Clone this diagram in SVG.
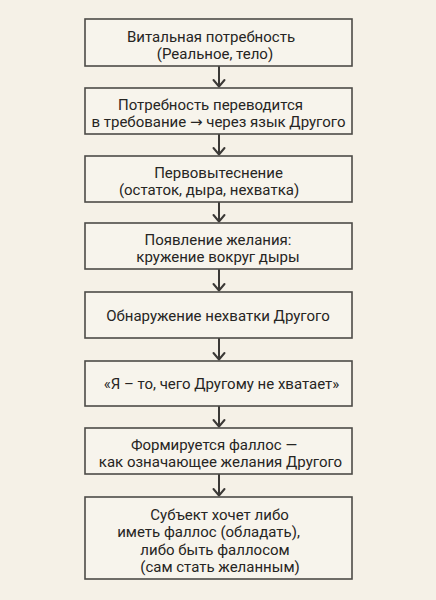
<svg xmlns="http://www.w3.org/2000/svg" width="436" height="600" viewBox="0 0 436 600">
<defs>
<style>
.bg{fill:#f5f1e7}
.box{fill:#f7f4ec;stroke:#4d4b48;stroke-width:1.6}
.t{font-family:Roboto,"Noto Sans","DejaVu Sans",sans-serif;font-size:15px;fill:#262523;text-anchor:middle}
.ln{stroke:#3b3936;stroke-width:2;fill:none}
.hd{stroke:#3b3936;stroke-width:2;fill:none;stroke-linecap:round;stroke-linejoin:round}
</style>
</defs>
<rect class="bg" x="0" y="0" width="436" height="600"/>
<g id="connectors">
<line class="ln" x1="219" y1="66" x2="219" y2="87"/><polyline class="hd" points="213.5,80 219,86.5 224.5,80"/>
<line class="ln" x1="219" y1="134" x2="219" y2="155"/><polyline class="hd" points="213.5,148 219,154.5 224.5,148"/>
<line class="ln" x1="219" y1="202" x2="219" y2="222"/><polyline class="hd" points="213.5,215 219,221.5 224.5,215"/>
<line class="ln" x1="219" y1="269" x2="219" y2="291"/><polyline class="hd" points="213.5,284 219,290.5 224.5,284"/>
<line class="ln" x1="219" y1="338" x2="219" y2="360"/><polyline class="hd" points="213.5,353 219,359.5 224.5,353"/>
<line class="ln" x1="219" y1="406" x2="219" y2="427"/><polyline class="hd" points="213.5,420 219,426.5 224.5,420"/>
<line class="ln" x1="219" y1="474" x2="219" y2="496"/><polyline class="hd" points="213.5,489 219,495.5 224.5,489"/>
</g>
<g id="n1"><rect class="box" x="85" y="19" width="267" height="47"/>
<text class="t" x="211" y="42.3">Витальная потребность</text>
<text class="t" x="215" y="59.3">(Реальное, тело)</text></g>
<g id="n2"><rect class="box" x="85" y="88" width="267" height="46"/>
<text class="t" x="210.5" y="110">Потребность переводится</text>
<text class="t" x="218.5" y="127">в требование → через язык Другого</text></g>
<g id="n3"><rect class="box" x="85" y="156" width="267" height="46"/>
<text class="t" x="218.5" y="178">Первовытеснение</text>
<text class="t" x="209" y="195">(остаток, дыра, нехватка)</text></g>
<g id="n4"><rect class="box" x="85" y="223" width="267" height="46"/>
<text class="t" x="218" y="245">Появление желания:</text>
<text class="t" x="218" y="262">кружение вокруг дыры</text></g>
<g id="n5"><rect class="box" x="85" y="292" width="267" height="46"/>
<text class="t" x="218" y="320.5">Обнаружение нехватки Другого</text></g>
<g id="n6"><rect class="box" x="85" y="361" width="267" height="45"/>
<text class="t" x="221.5" y="389">«Я – то, чего Другому не хватает»</text></g>
<g id="n7"><rect class="box" x="85" y="428" width="267" height="46"/>
<text class="t" x="214" y="450">Формируется фаллос —</text>
<text class="t" x="220.5" y="467">как означающее желания Другого</text></g>
<g id="n8"><rect class="box" x="85" y="497" width="267" height="82"/>
<text class="t" x="219.5" y="519.5">Субъект хочет либо</text>
<text class="t" x="208.5" y="537">иметь фаллос (обладать),</text>
<text class="t" x="215" y="554.5">либо быть фаллосом</text>
<text class="t" x="220" y="572">(сам стать желанным)</text></g>
</svg>
